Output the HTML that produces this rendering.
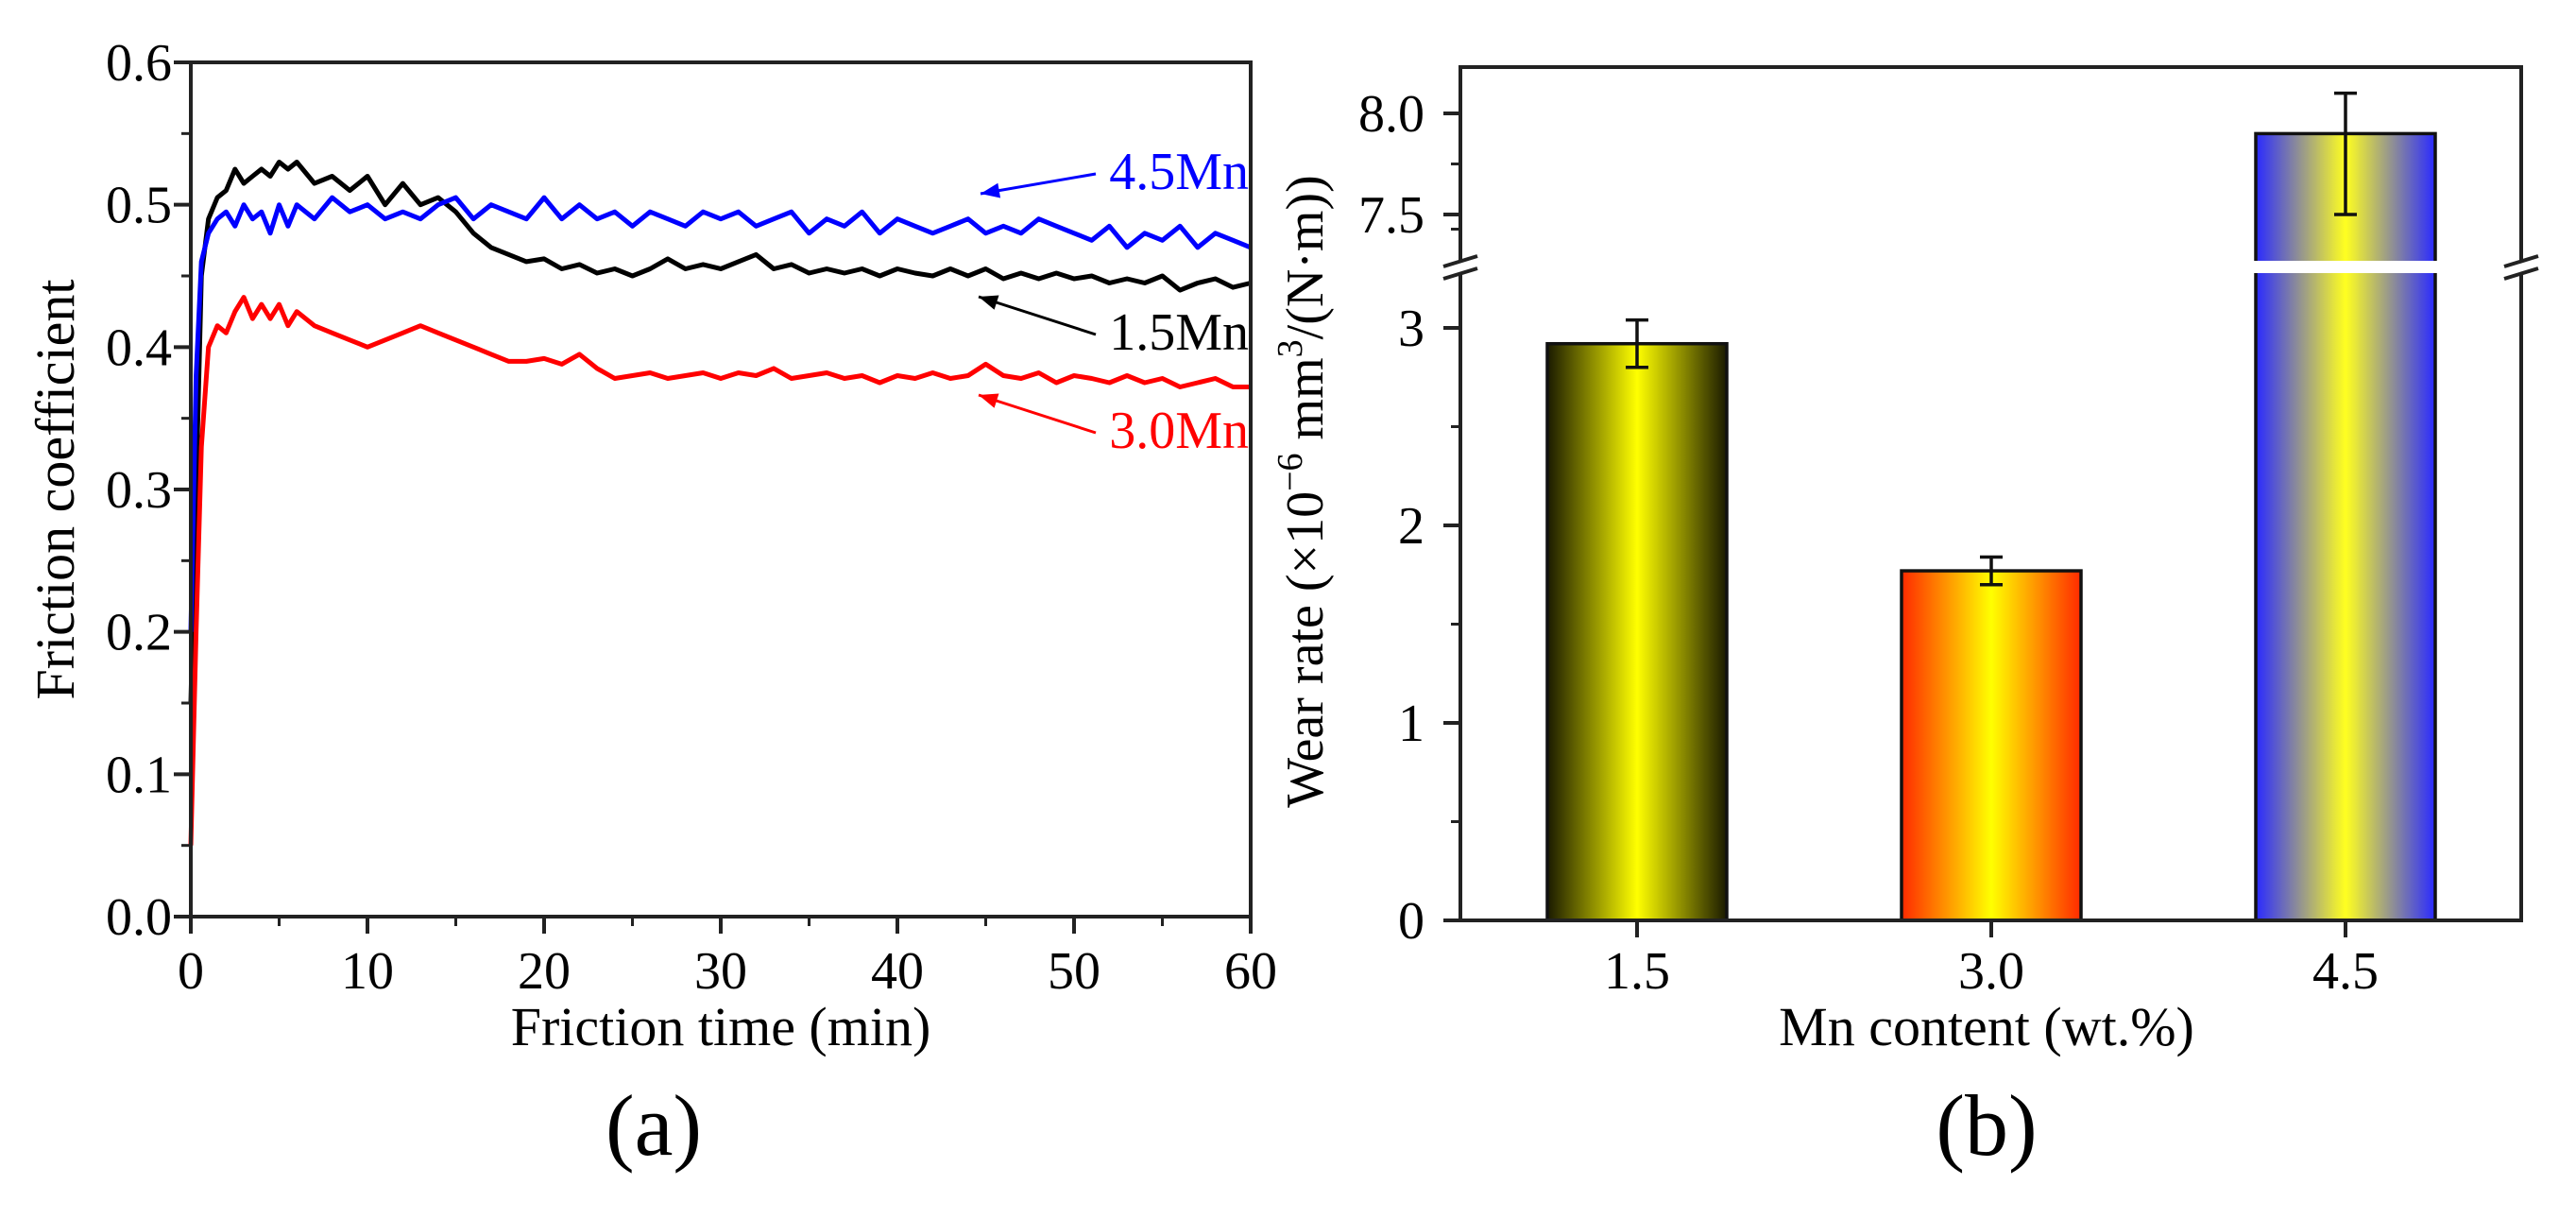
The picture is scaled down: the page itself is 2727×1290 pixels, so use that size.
<!DOCTYPE html>
<html><head><meta charset="utf-8"><style>
html,body{margin:0;padding:0;background:#fff}
svg{display:block}
text{font-family:"Liberation Serif",serif;}
</style></head><body>
<svg id="fig" width="2727" height="1290" viewBox="0 0 2727 1290" xmlns="http://www.w3.org/2000/svg">
<defs>
<linearGradient id="g1" x1="0" x2="1" y1="0" y2="0"><stop offset="0" stop-color="#1a1a00"/><stop offset="0.5" stop-color="#ffff00"/><stop offset="1" stop-color="#1a1a00"/></linearGradient>
<linearGradient id="g2" x1="0" x2="1" y1="0" y2="0"><stop offset="0" stop-color="#ff2a00"/><stop offset="0.5" stop-color="#ffff00"/><stop offset="1" stop-color="#ff2a00"/></linearGradient>
<linearGradient id="g3" x1="0" x2="1" y1="0" y2="0"><stop offset="0" stop-color="#2a2aff"/><stop offset="0.5" stop-color="#ffff20"/><stop offset="1" stop-color="#2a2aff"/></linearGradient>
</defs>
<g id="pa"></g>
<g id="pb"></g>
</svg>
<script>
// ---- chart (a) data ----
const timeMin = [0,0.3,0.6,1,1.5,2,2.5,3,3.5,4,4.5,5,5.5,6,7,8,9,10,11,12,13,14,15,16,17,18,19,20,21,22,23,24,25,26,27,28,29,30,31,32,33,34,35,36,37,38,39,40,41,42,43,44,45,46,47,48,49,50,51,52,53,54,55,56,57,58,59,60];
const mu15 = [0.15,0.3,0.45,0.49,0.505,0.51,0.525,0.515,0.52,0.525,0.52,0.53,0.525,0.53,0.515,0.52,0.51,0.52,0.5,0.515,0.5,0.505,0.495,0.48,0.47,0.465,0.46,0.462,0.455,0.458,0.452,0.455,0.45,0.455,0.462,0.455,0.458,0.455,0.46,0.465,0.455,0.458,0.452,0.455,0.452,0.455,0.45,0.455,0.452,0.45,0.455,0.45,0.455,0.448,0.452,0.448,0.452,0.448,0.45,0.445,0.448,0.445,0.45,0.44,0.445,0.448,0.442,0.445];
const mu45 = [0.2,0.38,0.46,0.48,0.49,0.495,0.485,0.5,0.49,0.495,0.48,0.5,0.485,0.5,0.49,0.505,0.495,0.5,0.49,0.495,0.49,0.5,0.505,0.49,0.5,0.495,0.49,0.505,0.49,0.5,0.49,0.495,0.485,0.495,0.49,0.485,0.495,0.49,0.495,0.485,0.49,0.495,0.48,0.49,0.485,0.495,0.48,0.49,0.485,0.48,0.485,0.49,0.48,0.485,0.48,0.49,0.485,0.48,0.475,0.485,0.47,0.48,0.475,0.485,0.47,0.48,0.475,0.47];
const mu30 = [0.05,0.2,0.33,0.4,0.415,0.41,0.425,0.435,0.42,0.43,0.42,0.43,0.415,0.425,0.415,0.41,0.405,0.4,0.405,0.41,0.415,0.41,0.405,0.4,0.395,0.39,0.39,0.392,0.388,0.395,0.385,0.378,0.38,0.382,0.378,0.38,0.382,0.378,0.382,0.38,0.385,0.378,0.38,0.382,0.378,0.38,0.375,0.38,0.378,0.382,0.378,0.38,0.388,0.38,0.378,0.382,0.375,0.38,0.378,0.375,0.38,0.375,0.378,0.372,0.375,0.378,0.372,0.372];
const xTicksA = [0,10,20,30,40,50,60];
const yTicksA = [0.0,0.1,0.2,0.3,0.4,0.5,0.6];
// ---- chart (b) data ----
const mnCats = ['1.5','3.0','4.5'];
const wearVals = [2.92,1.77,7.9];
const wearErrUp = [0.12,0.07,0.2];
const wearErrDn = [0.12,0.07,0.4];
const yTicksLow = [0,1,2,3];
const yTicksHigh = ['7.5','8.0'];

const NS='http://www.w3.org/2000/svg';
function mk(parent,tag,attrs,txt){const e=document.createElementNS(NS,tag);for(const k in attrs)e.setAttribute(k,attrs[k]);if(txt!==undefined)e.textContent=txt;parent.appendChild(e);return e;}

// ===== chart a =====
const A={l:202,r:1324,t:66,b:970};
const ax=v=>A.l+(v/60)*(A.r-A.l);
const ay=v=>A.b-(v/0.6)*(A.b-A.t);
const pa=document.getElementById('pa');
function series(vals,color,name){
  let d='';vals.forEach((v,i)=>{d+=(i?'L':'M')+ax(timeMin[i]).toFixed(1)+' '+ay(v).toFixed(1);});
  const p=mk(pa,'path',{d:d,fill:'none',stroke:color,'stroke-width':5,'stroke-linejoin':'round'});
  
  
}
series(mu15,'#000','line-1-5mn');
series(mu30,'#f00','line-3-0mn');
series(mu45,'#00f','line-4-5mn');
let fa=mk(pa,'rect',{x:A.l,y:A.t,width:A.r-A.l,height:A.b-A.t,fill:'none',stroke:'#222','stroke-width':4});


xTicksA.forEach(v=>{
  mk(pa,'line',{x1:ax(v),x2:ax(v),y1:A.b,y2:A.b+18,stroke:'#222','stroke-width':4});
  const t=mk(pa,'text',{x:ax(v),y:1046,'font-size':56,'text-anchor':'middle'},String(v));
  
  
  if(v<60)mk(pa,'line',{x1:ax(v+5),x2:ax(v+5),y1:A.b,y2:A.b+10,stroke:'#222','stroke-width':3});
});
yTicksA.forEach(v=>{
  mk(pa,'line',{x1:A.l-18,x2:A.l,y1:ay(v),y2:ay(v),stroke:'#222','stroke-width':4});
  const t=mk(pa,'text',{x:182,y:ay(v)+19,'font-size':56,'text-anchor':'end'},v.toFixed(1));
  
  
  if(v<0.6)mk(pa,'line',{x1:A.l-10,x2:A.l,y1:ay(v+0.05),y2:ay(v+0.05),stroke:'#222','stroke-width':3});
});
let t;
t=mk(pa,'text',{x:763,y:1106,'font-size':58,'text-anchor':'middle'},'Friction time (min)');


t=mk(pa,'text',{x:0,y:0,'font-size':58,'text-anchor':'middle',transform:'translate(78,518) rotate(-90)'},'Friction coefficient');


t=mk(pa,'text',{x:692,y:1222,'font-size':92,'text-anchor':'middle'},'(a)');


function lab(txt,color,y,x1,y1,x2,y2,name){
  const e=mk(pa,'text',{x:1322,y:y,'font-size':56,'text-anchor':'end',fill:color},txt);
  
  
  mk(pa,'line',{x1:x1,y1:y1,x2:x2,y2:y2,stroke:color,'stroke-width':3});
  const ang=Math.atan2(y2-y1,x2-x1),L=20,w=8;
  const bx=x2-L*Math.cos(ang),by=y2-L*Math.sin(ang);
  mk(pa,'polygon',{points:`${x2},${y2} ${bx-w*Math.sin(ang)},${by+w*Math.cos(ang)} ${bx+w*Math.sin(ang)},${by-w*Math.cos(ang)}`,fill:color});
}
lab('4.5Mn','#00f',200,1160,184,1038,205,'label-4-5mn');
lab('1.5Mn','#000',370,1160,354,1036,314,'label-1-5mn');
lab('3.0Mn','#f00',474,1160,458,1036,418,'label-3-0mn');

// ===== chart b =====
const B={l:1546,r:2669,t:71,b:974,brk:283};
const byLow=v=>B.b-v*209;
const byHigh=v=>120+(8.0-v)*214;
const bval=v=>v>5?byHigh(v):byLow(v);
const bx=i=>1733+i*375;
const bw=190;
const pb=document.getElementById('pb');
const grads=['url(#g1)','url(#g2)','url(#g3)'];
wearVals.forEach((v,i)=>{
  const top=bval(v);
  const r=mk(pb,'rect',{x:bx(i)-bw/2,y:top,width:bw,height:B.b-top,fill:grads[i],stroke:'#111','stroke-width':3.5});
  
  
  const hi=bval(v+wearErrUp[i]),lo=bval(v-wearErrDn[i]);
  mk(pb,'line',{x1:bx(i),x2:bx(i),y1:hi,y2:lo,stroke:'#111','stroke-width':3.5});
  mk(pb,'line',{x1:bx(i)-12,x2:bx(i)+12,y1:hi,y2:hi,stroke:'#111','stroke-width':3.5});
  mk(pb,'line',{x1:bx(i)-12,x2:bx(i)+12,y1:lo,y2:lo,stroke:'#111','stroke-width':3.5});
  mk(pb,'line',{x1:bx(i),x2:bx(i),y1:B.b,y2:B.b+18,stroke:'#222','stroke-width':4});
  const e=mk(pb,'text',{x:bx(i),y:1046,'font-size':56,'text-anchor':'middle'},mnCats[i]);
  
  
});
mk(pb,'rect',{x:B.l-30,y:B.brk-7,width:B.r-B.l+60,height:13,fill:'#fff'});
mk(pb,'path',{d:`M${B.l} ${B.brk-7}V${B.t}H${B.r}V${B.brk-7}M${B.l} ${B.brk+6}V${B.b}H${B.r}V${B.brk+6}`,fill:'none',stroke:'#222','stroke-width':4});
[B.l,B.r].forEach(x=>{
  mk(pb,'line',{x1:x-18,y1:B.brk-1,x2:x+18,y2:B.brk-12,stroke:'#222','stroke-width':4});
  mk(pb,'line',{x1:x-18,y1:B.brk+12,x2:x+18,y2:B.brk+1,stroke:'#222','stroke-width':4});
});
yTicksLow.forEach(v=>{
  mk(pb,'line',{x1:B.l-18,x2:B.l,y1:byLow(v),y2:byLow(v),stroke:'#222','stroke-width':4});
  const e=mk(pb,'text',{x:1508,y:byLow(v)+19,'font-size':56,'text-anchor':'end'},String(v));
  
  
  mk(pb,'line',{x1:B.l-10,x2:B.l,y1:byLow(v+0.5),y2:byLow(v+0.5),stroke:'#222','stroke-width':3});
});
yTicksHigh.forEach(s=>{
  const v=parseFloat(s);
  mk(pb,'line',{x1:B.l-18,x2:B.l,y1:byHigh(v),y2:byHigh(v),stroke:'#222','stroke-width':4});
  const e=mk(pb,'text',{x:1508,y:byHigh(v)+19,'font-size':56,'text-anchor':'end'},s);
  
  
});
mk(pb,'line',{x1:B.l-10,x2:B.l,y1:byHigh(7.75),y2:byHigh(7.75),stroke:'#222','stroke-width':3});
t=mk(pb,'text',{x:2103,y:1106,'font-size':58,'text-anchor':'middle'},'Mn content (wt.%)');


t=mk(pb,'text',{x:0,y:0,'font-size':56,'text-anchor':'middle',transform:'translate(1400,520) rotate(-90)'});
t.innerHTML='Wear rate (×10<tspan dy="-22" font-size="38">−6</tspan><tspan dy="22"> mm</tspan><tspan dy="-22" font-size="38">3</tspan><tspan dy="22">/(N·m))</tspan>';


t=mk(pb,'text',{x:2103,y:1222,'font-size':92,'text-anchor':'middle'},'(b)');


</script>
</body></html>
